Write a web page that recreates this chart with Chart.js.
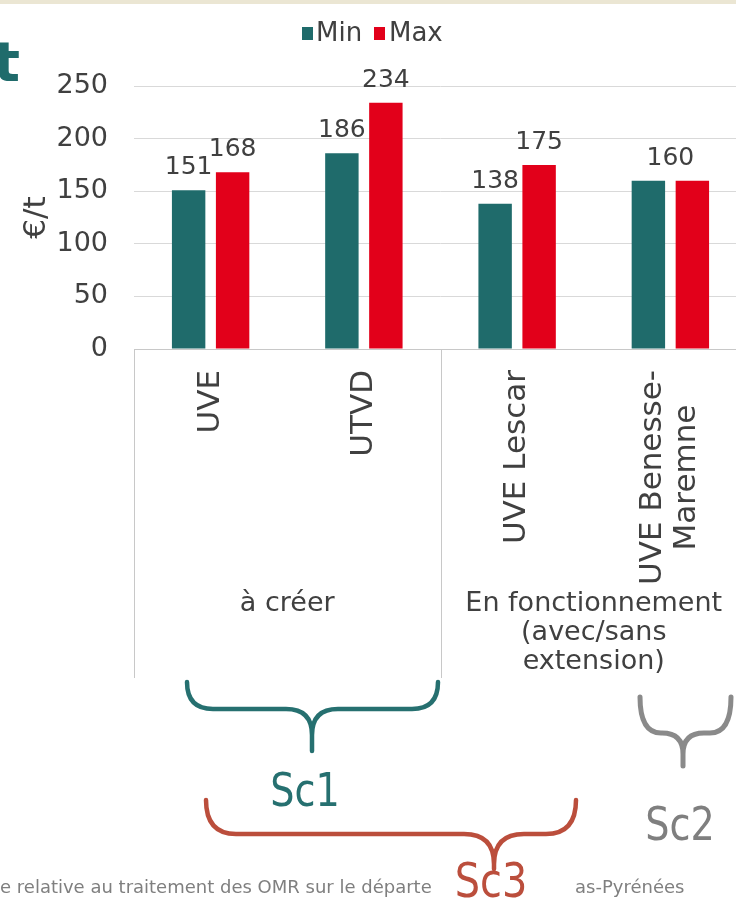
<!DOCTYPE html>
<html><head><meta charset="utf-8">
<script src="https://cdn.jsdelivr.net/npm/chart.js@4/dist/chart.umd.min.js"></script>
<style>
html,body{margin:0;padding:0;background:#fff;overflow:hidden;width:736px;height:899px}
#wrap{position:absolute;left:0;top:0;width:760px;height:899px}
</style>
</head><body><div id="wrap"><canvas id="c" width="760" height="899"></canvas></div>
<script>
// ---- data ----
const categories = ['UVE', 'UTVD', 'UVE Lescar', ['UVE Benesse-', 'Maremne']];
const groupLabels = [['à créer'], ['En fonctionnement', '(avec/sans', 'extension)']];
const groupSizes = [2, 2];
const seriesNames = ['Min', 'Max'];
const minValues = [151, 186, 138, 160];
const maxValues = [168, 234, 175, 160];
const yTickValues = [0, 50, 100, 150, 200, 250];
const yAxisTitle = '€/t';
const scenarioLabels = ['Sc1', 'Sc2', 'Sc3'];
const titleFragment = 't';
const footerParts = ['e relative au traitement des OMR sur le départe', 'as-Pyrénées'];

// ---- styles ----
const TEAL = '#1f6b6b', RED = '#e2001a', TXT = '#404040';
const FONT = '"DejaVu Sans", Verdana, sans-serif';

function brace(ctx, x1, x2, xc, yTop, yMid, yTip, r, color, lw) {
  ctx.save();
  ctx.strokeStyle = color; ctx.lineWidth = lw; ctx.lineCap = 'round'; ctx.lineJoin = 'round';
  ctx.beginPath();
  ctx.moveTo(x1, yTop);
  ctx.quadraticCurveTo(x1, yMid, x1 + r, yMid);
  ctx.lineTo(xc - r, yMid);
  ctx.quadraticCurveTo(xc, yMid, xc, Math.min(yMid + r, yTip));
  ctx.lineTo(xc, yTip);
  ctx.moveTo(x2, yTop);
  ctx.quadraticCurveTo(x2, yMid, x2 - r, yMid);
  ctx.lineTo(xc + r, yMid);
  ctx.quadraticCurveTo(xc, yMid, xc, Math.min(yMid + r, yTip));
  ctx.stroke();
  ctx.restore();
}
function squishText(ctx, text, x, y, size, color, sx) {
  ctx.save();
  ctx.font = size + 'px ' + FONT; ctx.fillStyle = color;
  ctx.textAlign = 'center'; ctx.textBaseline = 'alphabetic';
  ctx.translate(x, y); ctx.scale(sx, 1); ctx.fillText(text, 0, 0);
  ctx.restore();
}

const decor = {
  id: 'decor',
  beforeDraw(chart) {
    const ctx = chart.ctx;
    ctx.save();
    ctx.fillStyle = '#ffffff'; ctx.fillRect(0, 0, chart.width, chart.height);
    ctx.fillStyle = '#ebe6d3'; ctx.fillRect(0, 0, chart.width, 4);
    ctx.restore();
  },
  afterDatasetsDraw(chart) {
    const ctx = chart.ctx;
    const m0 = chart.getDatasetMeta(0).data, m1 = chart.getDatasetMeta(1).data;
    ctx.save();
    ctx.font = '25px ' + FONT; ctx.fillStyle = TXT; ctx.textAlign = 'center'; ctx.textBaseline = 'alphabetic';
    minValues.forEach((v, i) => {
      const a = m0[i], b = m1[i];
      if (minValues[i] === maxValues[i]) {
        ctx.fillText(String(v), (a.x + b.x) / 2, Math.min(a.y, b.y) - 16);
      } else {
        ctx.fillText(String(minValues[i]), a.x, a.y - 16);
        ctx.fillText(String(maxValues[i]), b.x, b.y - 16);
      }
    });
    ctx.restore();
  },
  afterDraw(chart) {
    const ctx = chart.ctx;
    const xs = chart.scales.x;
    const area = chart.chartArea;
    const catW = xs.width / categories.length;
    ctx.save();

    // title fragment
    ctx.font = 'bold 56px ' + FONT; ctx.fillStyle = TEAL; ctx.textAlign = 'right'; ctx.textBaseline = 'alphabetic';
    ctx.fillText(titleFragment, 20, 81);

    // legend
    ctx.font = '26px ' + FONT; ctx.textAlign = 'left'; ctx.textBaseline = 'middle';
    ctx.fillStyle = TEAL; ctx.fillRect(302, 27, 11, 13);
    ctx.fillStyle = TXT; ctx.fillText(seriesNames[0], 316, 34);
    ctx.fillStyle = RED; ctx.fillRect(374, 27, 11, 13);
    ctx.fillStyle = TXT; ctx.fillText(seriesNames[1], 389, 34);

    // category box lines
    ctx.strokeStyle = '#c8c8c8'; ctx.lineWidth = 1;
    let idx = 0;
    const bounds = [xs.left];
    groupSizes.forEach(n => { idx += n; bounds.push(xs.getPixelForValue(idx - 1) + catW / 2); });
    bounds.forEach(bx => {
      const x = Math.round(bx) + 0.5;
      ctx.beginPath(); ctx.moveTo(x, area.bottom); ctx.lineTo(x, 678); ctx.stroke();
    });

    // rotated category labels
    ctx.font = '31px ' + FONT; ctx.fillStyle = TXT;
    categories.forEach((lab, i) => {
      const lines = Array.isArray(lab) ? lab : [lab];
      const cx = xs.getPixelForValue(i);
      const maxW = Math.max(...lines.map(l => ctx.measureText(l).width));
      const yC = 370 + maxW / 2;
      lines.forEach((ln, j) => {
        const off = (j - (lines.length - 1) / 2) * 34;
        ctx.save(); ctx.translate(cx + off, yC); ctx.rotate(-Math.PI / 2);
        ctx.textAlign = 'center'; ctx.textBaseline = 'middle';
        ctx.fillText(ln, 0, 0); ctx.restore();
      });
    });

    // group labels
    ctx.font = '27px ' + FONT; ctx.textAlign = 'center'; ctx.textBaseline = 'alphabetic';
    groupLabels.forEach((lines, g) => {
      const cx = (bounds[g] + bounds[g + 1]) / 2;
      lines.forEach((ln, j) => ctx.fillText(ln, cx, 611 + j * 29));
    });

    // braces & scenario labels
    brace(ctx, 187, 438, 312, 682, 709, 751, 26, '#267070', 4.5);
    brace(ctx, 640, 731, 683, 697, 733, 766, 21, '#8a8a8a', 5);
    brace(ctx, 206, 576, 494, 800, 834, 869, 30, '#bb4e3c', 4.5);
    squishText(ctx, scenarioLabels[0], 305, 806, 46, '#267070', 0.83);
    squishText(ctx, scenarioLabels[1], 680, 840, 46, '#7f7f7f', 0.83);

    // footer
    ctx.font = '18px ' + FONT; ctx.fillStyle = '#7f7f7f'; ctx.textAlign = 'left';
    ctx.fillText(footerParts[0], 0, 893);
    ctx.fillText(footerParts[1], 575, 893);
    squishText(ctx, scenarioLabels[2], 491, 897, 48, '#bb4e3c', 0.83);
    ctx.restore();
  }
};

new Chart(document.getElementById('c'), {
  type: 'bar',
  data: {
    labels: categories,
    datasets: [
      { label: seriesNames[0], data: minValues, backgroundColor: TEAL, barPercentage: 0.76, categoryPercentage: 0.574 },
      { label: seriesNames[1], data: maxValues, backgroundColor: RED, barPercentage: 0.76, categoryPercentage: 0.574 }
    ]
  },
  options: {
    responsive: false, animation: false, devicePixelRatio: 1,
    layout: { padding: { top: 86, bottom: 550, left: 0, right: 13 } },
    plugins: { legend: { display: false }, tooltip: { enabled: false } },
    scales: {
      x: {
        ticks: { display: false }, grid: { display: false },
        border: { display: true, color: '#c8c8c8', width: 1 },
        afterFit(s) { s.height = 0; }
      },
      y: {
        min: 0, max: 250,
        afterBuildTicks(s) { s.ticks = yTickValues.map(v => ({ value: v })); },
        ticks: { font: { family: FONT, size: 27 }, color: TXT, padding: 26 },
        grid: { color: '#d9d9d9', drawTicks: false },
        border: { display: false },
        title: { display: true, text: yAxisTitle, font: { family: FONT, size: 31 }, color: TXT, padding: { top: 18, bottom: 0 } },
        afterFit(s) { s.width = 134; }
      }
    }
  },
  plugins: [decor]
});
</script>
</body></html>
